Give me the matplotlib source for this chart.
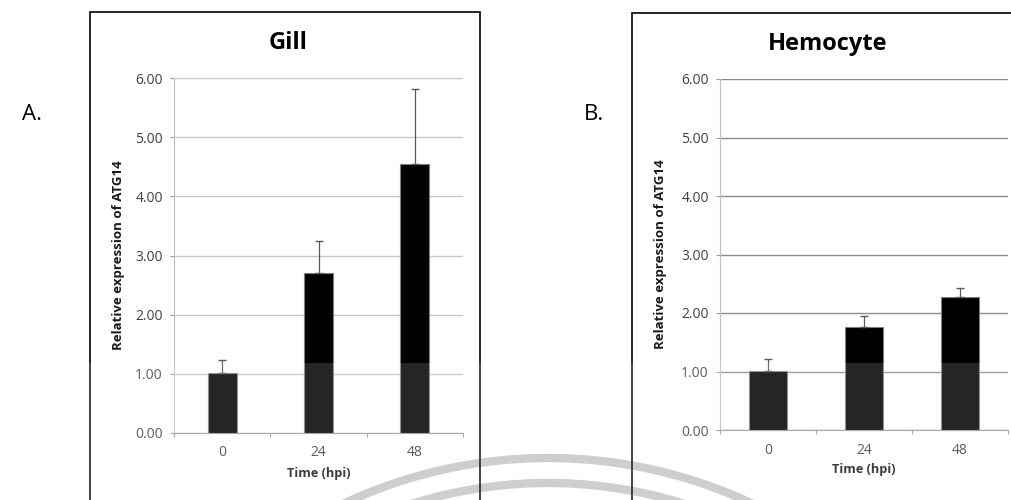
import matplotlib
matplotlib.use("Agg")
import matplotlib.pyplot as plt
from matplotlib.patches import Rectangle, Arc

plt.rcParams['font.family'] = ['Open Sans', 'DejaVu Sans']

categories = ["0", "24", "48"]
gill_mean = [1.02, 2.70, 4.54]
gill_err = [0.22, 0.54, 1.28]
hemo_mean = [1.01, 1.76, 2.27]
hemo_err = [0.20, 0.19, 0.16]
yticks = [0, 1, 2, 3, 4, 5, 6]

W, H = 1011, 500
fig = plt.figure(figsize=(W / 100, H / 100), dpi=100)

def fx(px):
    return px / W

def fy(py):
    return 1 - py / H

# background watermark arcs
bg = fig.add_axes([0, 0, 1, 1], zorder=-5)
bg.set_xlim(0, W)
bg.set_ylim(0, H)
bg.axis('off')
for r in (480, 455):
    bg.add_patch(Arc((548, -438), 2 * r, 2 * r, theta1=30, theta2=150,
                     color='#c6c6c6', lw=6.0))

def panel(rect, means, errs, title, title_xy, letter, letter_xy, bar_w,
          grid_color, ylab_x, box):
    ax = fig.add_axes(rect)
    x = list(range(len(categories)))
    ax.bar(x, means, width=bar_w, color='black', edgecolor='#7f7f7f',
           linewidth=0.8, zorder=3)
    ax.errorbar(x, means, yerr=[[0] * len(errs), errs], fmt='none',
                ecolor='#595959', elinewidth=0.9, capsize=2.9, capthick=1.0,
                zorder=4)
    ax.set_xlim(-0.5, len(categories) - 0.5)
    ax.set_ylim(0, 6)
    ax.set_yticks(yticks)
    ax.set_yticklabels([f"{v:.2f}" for v in yticks])
    ax.set_xticks(x)
    ax.set_xticklabels(categories)
    ax.set_xticks([i + 0.5 for i in range(-1, len(categories))], minor=True)
    ax.tick_params(axis='x', which='major', length=0, pad=9, labelsize=10,
                   labelcolor='#404040')
    ax.tick_params(axis='x', which='minor', length=3, width=0.8,
                   color='#999999')
    ax.tick_params(axis='y', length=3, width=0.8, color='#999999', pad=5,
                   labelsize=10, labelcolor='#404040')
    ax.yaxis.grid(True, color=grid_color, linewidth=1.0, zorder=0)
    ax.set_axisbelow(True)
    for s in ('top', 'right'):
        ax.spines[s].set_visible(False)
    ax.spines['left'].set_color('#c0c0c0')
    ax.spines['bottom'].set_color('#999999')
    ax.set_ylabel('Relative expression of ATG14', fontsize=9.5,
                  fontweight='bold', color='#1a1a1a')
    ax.yaxis.set_label_coords(ylab_x, 0.5)
    ax.text(0.5, -0.113, 'Time (hpi)', transform=ax.transAxes, ha='center',
            va='center', fontsize=9.2, fontweight='bold', color='#1a1a1a')
    fig.text(fx(title_xy[0]), fy(title_xy[1]), title, ha='center',
             va='center', fontsize=17, fontweight='bold')
    fig.text(fx(letter_xy[0]), fy(letter_xy[1]), letter, ha='left',
             va='center', fontsize=16)
    x0, y0, x1, y1 = box
    fig.add_artist(Rectangle((fx(x0), fy(y1)), fx(x1 - x0), (y1 - y0) / H,
                             transform=fig.transFigure, fill=False,
                             edgecolor='black', linewidth=1.2, zorder=50))
    return ax

panel([fx(174), fy(433), fx(289), 355 / H], gill_mean, gill_err, 'Gill',
      (288, 43), 'A.', (22, 115), 0.3, '#c8c8c8', -0.17,
      (90, 12, 480, 510))
panel([fx(720), fy(430), fx(288), 351 / H], hemo_mean, hemo_err, 'Hemocyte',
      (828, 44), 'B.', (584, 115), 0.4, '#8c8c8c', -0.184,
      (632, 13, 1030, 510))

# light overlay band on the lower part of the picture
fig.add_artist(Rectangle((0, 0), 1, fy(363), transform=fig.transFigure,
                         facecolor='white', edgecolor='none', alpha=0.15,
                         zorder=100))

fig.savefig('out.png', dpi=100)
